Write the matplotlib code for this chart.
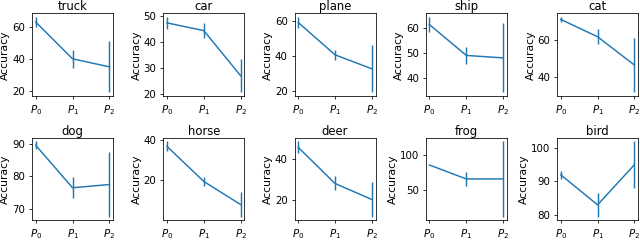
import matplotlib
matplotlib.use("Agg")
import matplotlib.pyplot as plt

classes = ["truck", "car", "plane", "ship", "cat",
           "dog", "horse", "deer", "frog", "bird"]
labels = ["$P_0$", "$P_1$", "$P_2$"]

# mean accuracy per class at P0, P1, P2
acc = {
    "truck": [63.0, 40.0, 35.0],
    "car":   [47.5, 44.5, 27.0],
    "plane": [59.0, 40.5, 32.5],
    "ship":  [61.5, 49.0, 48.0],
    "cat":   [71.5, 62.0, 46.5],
    "dog":   [89.5, 76.5, 77.5],
    "horse": [37.0, 19.5, 8.0],
    "deer":  [46.0, 28.0, 20.0],
    "frog":  [86.0, 66.0, 66.0],
    "bird":  [92.0, 83.0, 95.0],
}
# error (half-length of the bar)
err = {
    "truck": [3.0, 5.5, 16.0],
    "car":   [2.2, 2.8, 6.5],
    "plane": [3.0, 3.0, 13.5],
    "ship":  [3.0, 3.5, 14.0],
    "cat":   [1.2, 4.0, 15.0],
    "dog":   [1.2, 3.2, 9.8],
    "horse": [2.5, 2.2, 6.0],
    "deer":  [3.0, 3.5, 8.5],
    "frog":  [0.5, 10.0, 54.0],
    "bird":  [1.2, 3.5, 7.0],
}

x = [0, 1, 2]
# drawn big and saved at low dpi, so it looks like a shrunk-down figure
dpi = 70
fig, axes = plt.subplots(2, 5, figsize=(640 / dpi, 240 / dpi), dpi=dpi)
for ax, name in zip(axes.flat, classes):
    ax.errorbar(x, acc[name], yerr=err[name], color="C0")
    ax.set_title(name, pad=3)
    ax.set_ylabel("Accuracy", fontsize=11, labelpad=2)
    ax.set_xticks(x)
    ax.set_xticklabels(labels, fontsize=10.5)
    ax.tick_params(axis="y", labelsize=10.5)

plt.subplots_adjust(left=0.05, right=0.997, top=0.944, bottom=0.082,
                    wspace=0.62, hspace=0.5)
plt.savefig("out.png", dpi=dpi)
